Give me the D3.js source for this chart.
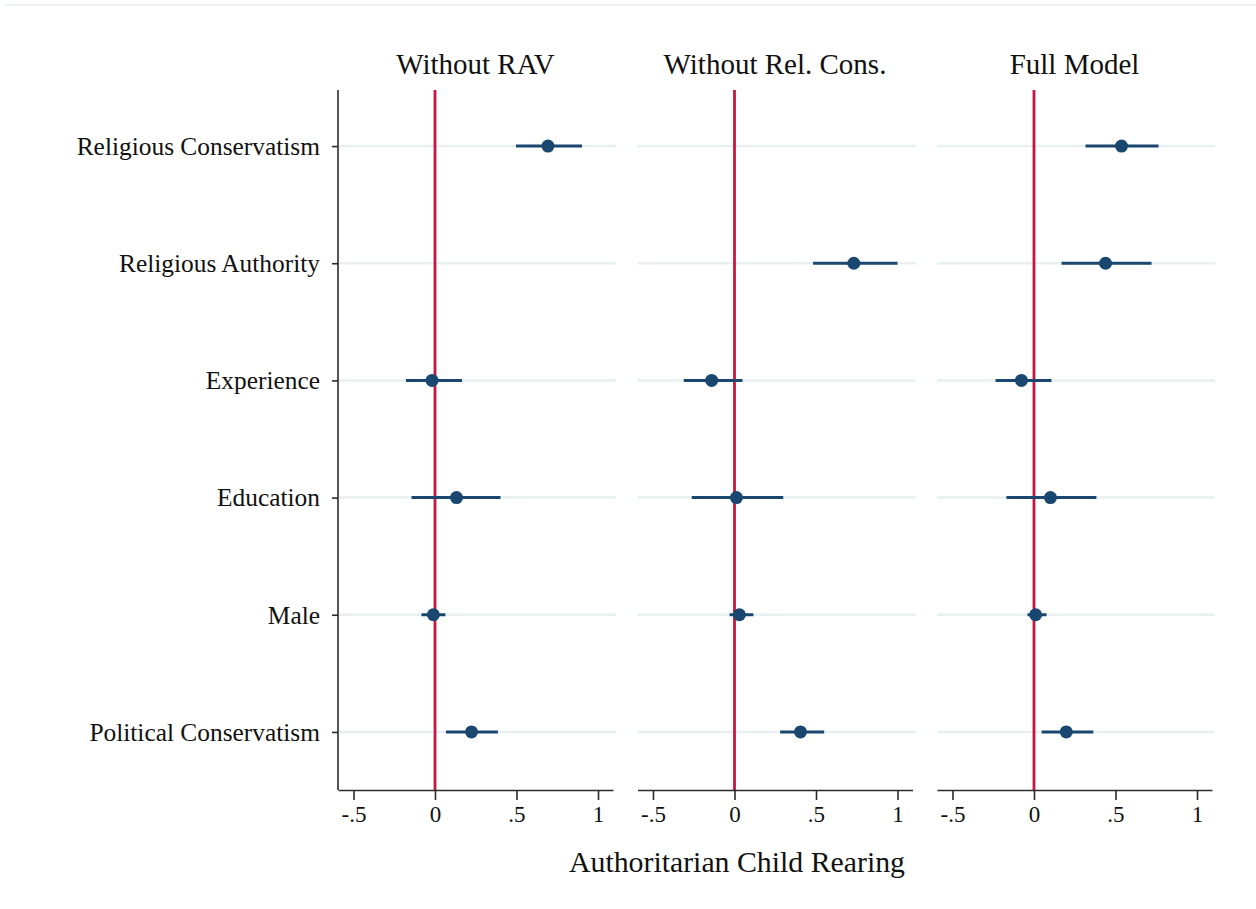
<!DOCTYPE html>
<html>
<head>
<meta charset="utf-8">
<script src="https://cdn.jsdelivr.net/npm/d3@7"></script>
<style>
  html, body { margin: 0; padding: 0; background: #fff; }
  svg { display: block; }
  text { font-family: "Liberation Serif", "DejaVu Serif", serif; fill: #111; }
</style>
</head>
<body>
<svg id="chart" width="1256" height="909"></svg>
<script>
// ---- Data ----
const categories = ["Religious Conservatism", "Religious Authority", "Experience", "Education", "Male", "Political Conservatism"];
const panels = ["Without RAV", "Without Rel. Cons.", "Full Model"];
const xTicks = [-0.5, 0, 0.5, 1];
const xTickLabels = ["-.5", "0", ".5", "1"];
const xTitle = "Authoritarian Child Rearing";

// point estimates per panel (null = not in model)
const estWithoutRAV = [0.693, null, -0.018, 0.132, -0.010, 0.224];
const loWithoutRAV  = [0.497, null, -0.178, -0.144, -0.083, 0.067];
const hiWithoutRAV  = [0.902, null, 0.166, 0.402, 0.064, 0.386];

const estWithoutRC = [null, 0.732, -0.140, 0.012, 0.030, 0.405];
const loWithoutRC  = [null, 0.482, -0.311, -0.262, -0.030, 0.280];
const hiWithoutRC  = [null, 1.000, 0.049, 0.299, 0.116, 0.550];

const estFull = [0.537, 0.439, -0.077, 0.101, 0.010, 0.198];
const loFull  = [0.316, 0.169, -0.236, -0.169, -0.040, 0.047];
const hiFull  = [0.764, 0.721, 0.107, 0.383, 0.077, 0.364];

const panelData = [
  { est: estWithoutRAV, lo: loWithoutRAV, hi: hiWithoutRAV },
  { est: estWithoutRC,  lo: loWithoutRC,  hi: hiWithoutRC },
  { est: estFull,       lo: loFull,       hi: hiFull }
];

// ---- Layout ----
const svg = d3.select("#chart");
const navy = "#1a476f";
const red = "#c8153f";
const grid = "#e8eff1";
const axisCol = "#2b2b2b";

const plotTop = 90, plotBottom = 790;
const panelLeft0 = 338, panelWidth = 275, panelStep = 299.5, gridExtra = 3;
const xDomain = [-0.595, 1.092];

// faint top rule
svg.append("line").attr("x1", 5).attr("x2", 1256).attr("y1", 5).attr("y2", 5)
  .attr("stroke", "#eef2f5").attr("stroke-width", 2);

const y = d3.scalePoint().domain(categories).range([plotTop - 1, plotBottom - 1]).padding(0.487);

panels.forEach((title, pi) => {
  const x0 = panelLeft0 + pi * panelStep;
  const x = d3.scaleLinear().domain(xDomain).range([x0, x0 + panelWidth]);
  const g = svg.append("g");

  // gridlines
  g.selectAll("line.grid").data(categories).enter().append("line")
    .attr("x1", x0).attr("x2", x0 + panelWidth + gridExtra)
    .attr("y1", d => y(d)).attr("y2", d => y(d))
    .attr("stroke", grid).attr("stroke-width", 2.5);

  // zero reference line
  g.append("line").attr("x1", x(0)).attr("x2", x(0))
    .attr("y1", plotTop).attr("y2", plotBottom)
    .attr("stroke", red).attr("stroke-width", 2.8);

  // x axis
  const xAxis = d3.axisBottom(x).tickValues(xTicks)
    .tickFormat((d, i) => xTickLabels[i]).tickSize(10).tickSizeOuter(0).tickPadding(6);
  const ax = g.append("g").attr("transform", `translate(0,${plotBottom})`).call(xAxis);
  ax.select(".domain").attr("stroke", axisCol).attr("stroke-width", 1.6);
  ax.selectAll(".tick line").attr("stroke", axisCol).attr("stroke-width", 1.6);
  ax.selectAll(".tick text").style("font-family", "Liberation Serif, serif")
    .style("font-size", "23px").attr("fill", "#111");

  // y axis only on first panel
  if (pi === 0) {
    const yAxis = d3.axisLeft(y).tickSize(6).tickSizeOuter(0).tickPadding(12);
    const ay = g.append("g").attr("transform", `translate(${x0},0)`).call(yAxis);
    ay.select(".domain").attr("stroke", axisCol).attr("stroke-width", 1.6)
      .attr("d", `M0,${plotTop}V${plotBottom}`);
    ay.selectAll(".tick line").attr("stroke", axisCol).attr("stroke-width", 1.6);
    ay.selectAll(".tick text").style("font-family", "Liberation Serif, serif")
      .style("font-size", "25.4px").attr("fill", "#111").attr("dy", "0.33em");
  }

  // panel title
  g.append("text").attr("x", x0 + panelWidth / 2).attr("y", 74)
    .attr("text-anchor", "middle").style("font-size", "29px").text(title);

  // CI + points
  const pd = panelData[pi];
  const rows = categories.map((c, i) => ({ c, est: pd.est[i], lo: pd.lo[i], hi: pd.hi[i] }))
    .filter(r => r.est !== null);

  g.selectAll("line.ci").data(rows).enter().append("line")
    .attr("x1", d => x(d.lo)).attr("x2", d => x(d.hi))
    .attr("y1", d => y(d.c)).attr("y2", d => y(d.c))
    .attr("stroke", navy).attr("stroke-width", 3);

  g.selectAll("circle.pt").data(rows).enter().append("circle")
    .attr("cx", d => x(d.est)).attr("cy", d => y(d.c)).attr("r", 6.5)
    .attr("fill", navy);
});

// x axis title
svg.append("text").attr("x", 737).attr("y", 872).attr("text-anchor", "middle")
  .style("font-size", "29.8px").text(xTitle);
</script>
</body>
</html>
